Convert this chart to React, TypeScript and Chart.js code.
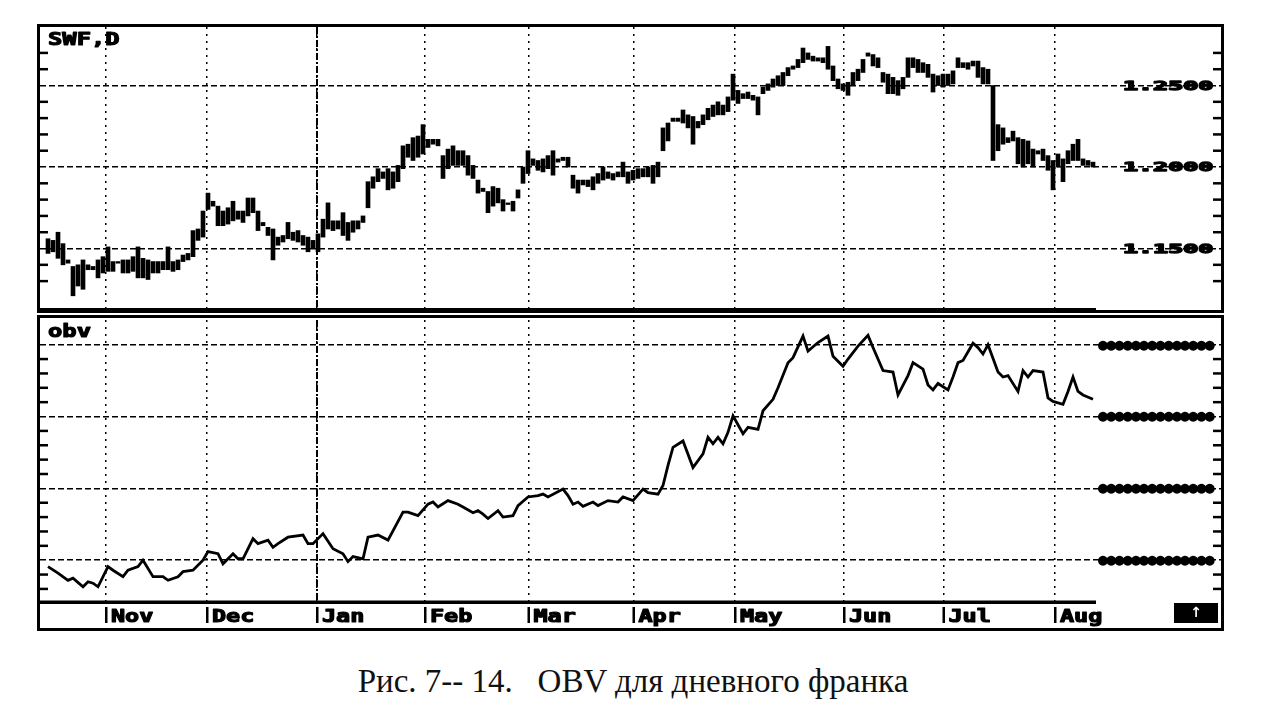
import React, { useEffect, useRef } from "react";
import { Chart, registerables } from "chart.js";

Chart.register(...registerables);

// ---------- data ----------
const priceHigh = [
  1.156, 1.155, 1.160, 1.153, 1.143, 1.139, 1.140, 1.143, 1.140, 1.139,
  1.143, 1.145, 1.151, 1.142, 1.142, 1.143, 1.143, 1.145, 1.151, 1.144,
  1.143, 1.142, 1.142, 1.142, 1.151, 1.142, 1.143, 1.146, 1.147, 1.161,
  1.162, 1.173, 1.184, 1.179, 1.176, 1.173, 1.175, 1.179, 1.173, 1.173,
  1.181, 1.181, 1.173,
  1.166, 1.163, 1.162, 1.157, 1.158, 1.166, 1.160, 1.161, 1.158, 1.157,
  1.155, 1.159, 1.168, 1.178, 1.167, 1.167, 1.172, 1.166, 1.167, 1.167,
  1.170, 1.191, 1.194, 1.199, 1.197, 1.199, 1.197, 1.201, 1.213, 1.214,
  1.218, 1.219, 1.226, 1.217, 1.217, 1.217, 1.207, 1.211, 1.213, 1.210,
  1.210, 1.207,
  1.201, 1.192, 1.187, 1.185, 1.188, 1.187, 1.180, 1.178, 1.179, 1.186,
  1.200, 1.210, 1.205, 1.204, 1.205, 1.207, 1.210, 1.205, 1.206, 1.206,
  1.195, 1.192, 1.192, 1.192, 1.194, 1.196, 1.200, 1.197, 1.196, 1.197,
  1.203, 1.197, 1.198, 1.199, 1.199, 1.200, 1.201, 1.203, 1.224, 1.227,
  1.230, 1.230,
  1.235, 1.232, 1.231, 1.228, 1.232, 1.236, 1.238, 1.240, 1.238, 1.243,
  1.257, 1.247, 1.245, 1.246, 1.244, 1.243, 1.249, 1.251, 1.254, 1.256,
  1.258, 1.261, 1.262, 1.266, 1.273, 1.270, 1.268, 1.267, 1.267, 1.274,
  1.262, 1.254, 1.251, 1.252, 1.258, 1.260, 1.266, 1.270, 1.269, 1.267,
  1.258, 1.257,
  1.255, 1.253, 1.255, 1.267, 1.267, 1.266, 1.264, 1.263, 1.257, 1.256,
  1.257, 1.257, 1.259, 1.267, 1.264, 1.264, 1.265, 1.265, 1.261, 1.260,
  1.250, 1.226, 1.224, 1.218, 1.222, 1.218, 1.217, 1.216, 1.211, 1.210,
  1.211, 1.207, 1.204, 1.208, 1.205, 1.210, 1.214, 1.217, 1.205, 1.204,
  1.203,
];

const priceLow = [
  1.147, 1.148, 1.144, 1.140, 1.141, 1.121, 1.127, 1.125, 1.137, 1.137,
  1.132, 1.135, 1.136, 1.136, 1.141, 1.135, 1.135, 1.136, 1.132, 1.132,
  1.131, 1.135, 1.135, 1.137, 1.137, 1.136, 1.137, 1.142, 1.143, 1.145,
  1.155, 1.157, 1.174, 1.176, 1.164, 1.164, 1.165, 1.167, 1.168, 1.166,
  1.170, 1.172, 1.161,
  1.164, 1.158, 1.143, 1.152, 1.154, 1.156, 1.155, 1.154, 1.152, 1.148,
  1.150, 1.148, 1.157, 1.162, 1.161, 1.162, 1.158, 1.155, 1.160, 1.162,
  1.166, 1.175, 1.187, 1.191, 1.193, 1.186, 1.187, 1.191, 1.199, 1.206,
  1.204, 1.206, 1.208, 1.212, 1.214, 1.213, 1.193, 1.199, 1.201, 1.201,
  1.201, 1.195,
  1.193, 1.184, 1.185, 1.172, 1.176, 1.178, 1.173, 1.177, 1.173, 1.181,
  1.190, 1.196, 1.201, 1.198, 1.197, 1.199, 1.195, 1.203, 1.204, 1.200,
  1.187, 1.184, 1.189, 1.188, 1.186, 1.190, 1.192, 1.193, 1.192, 1.194,
  1.194, 1.190, 1.192, 1.193, 1.194, 1.194, 1.190, 1.194, 1.210, 1.216,
  1.228, 1.228,
  1.227, 1.224, 1.214, 1.224, 1.226, 1.229, 1.231, 1.232, 1.232, 1.234,
  1.241, 1.239, 1.242, 1.242, 1.241, 1.232, 1.245, 1.247, 1.249, 1.250,
  1.250, 1.256, 1.260, 1.261, 1.264, 1.266, 1.265, 1.265, 1.264, 1.260,
  1.253, 1.248, 1.247, 1.244, 1.250, 1.253, 1.258, 1.268, 1.262, 1.261,
  1.252, 1.245,
  1.245, 1.244, 1.248, 1.255, 1.261, 1.258, 1.258, 1.255, 1.246, 1.250,
  1.249, 1.250, 1.251, 1.261, 1.261, 1.260, 1.262, 1.255, 1.251, 1.251,
  1.204, 1.210, 1.214, 1.215, 1.216, 1.202, 1.200, 1.202, 1.200, 1.208,
  1.204, 1.198, 1.186, 1.200, 1.191, 1.202, 1.204, 1.204, 1.201, 1.201,
  1.200,
];

const obvDays = [
  0, 2, 4, 5, 7, 8, 9, 10, 12, 13, 15, 16, 18, 19, 21, 23, 24, 26, 27, 29,
  31, 32, 34, 35, 37, 38, 39, 41, 42, 44, 45, 46, 48, 51, 52, 53, 55, 57, 59, 60,
  61, 63, 64, 66, 68, 71, 72, 74, 76, 77, 78, 80, 82, 83, 85, 86, 87, 88, 90, 91,
  93, 94, 96, 98, 99, 100, 103, 104, 105, 106, 107, 109, 110, 112, 114, 115, 117, 119, 120, 122,
  123, 124, 125, 127, 129, 131, 132, 133, 134, 135, 136, 137, 139, 140, 142, 143, 145, 146, 148, 149,
  151, 152, 154, 156, 157, 159, 160, 162, 164, 165, 167, 169, 170, 172, 173, 175, 176, 177, 178, 180,
  181, 182, 183, 185, 186, 187, 188, 190, 191, 192, 194, 195, 196, 197, 199, 200, 201, 203, 204, 205,
  206, 207, 209,
];

const obvValues = [
  9.1, 8.2, 7.2, 7.5, 6.3, 7.0, 6.8, 6.3, 9.1, 8.6, 7.7, 8.6, 9.1, 10.0, 7.7, 7.7, 7.2, 7.7, 8.4, 8.6,
  10.0, 11.2, 10.9, 9.5, 10.9, 10.2, 10.2, 13.0, 12.3, 12.8, 11.8, 12.3, 13.2, 13.5, 12.3, 12.3, 13.7, 11.6, 10.9, 9.8,
  10.5, 10.2, 13.2, 13.5, 12.8, 16.7, 16.7, 16.2, 17.8, 18.1, 17.4, 18.3, 17.8, 17.4, 16.6, 16.9, 16.4, 15.8, 16.9, 16.0,
  16.2, 17.6, 18.8, 19.0, 19.2, 18.8, 19.9, 19.0, 17.8, 18.1, 17.5, 18.1, 17.6, 18.3, 18.1, 18.8, 18.3, 19.9, 19.4, 19.2,
  20.4, 23.2, 25.7, 26.6, 22.9, 24.8, 27.1, 26.2, 27.1, 26.2, 27.8, 30.1, 27.6, 28.5, 28.2, 30.8, 32.4, 34.0, 37.5, 38.2,
  41.2, 39.1, 40.3, 41.2, 38.4, 37.0, 38.0, 39.8, 41.3, 39.6, 36.4, 36.2, 33.0, 35.7, 37.5, 36.6, 34.4, 33.7, 34.6, 33.7,
  35.5, 37.5, 37.8, 40.2, 39.6, 38.7, 40.0, 36.2, 35.5, 35.7, 33.5, 36.4, 35.5, 36.4, 36.2, 32.6, 32.1, 31.7, 33.5, 35.5,
  33.5, 33.0, 32.4,
];

const monthLabels = ["Nov", "Dec", "Jan", "Feb", "Mar", "Apr", "May", "Jun", "Jul", "Aug"];
const monthDays = [11.6, 31.8, 53.8, 75.4, 96.1, 117.1, 137.4, 159.2, 179.1, 201.4];

const priceTicks = [1.15, 1.2, 1.25];
const priceTickLabels = ["1.1500", "1.2000", "1.2500"];
const priceMinorTicks = [1.13, 1.14, 1.16, 1.17, 1.18, 1.19, 1.21, 1.22, 1.23, 1.24, 1.26, 1.27];

const obvGridValues = [10, 20, 30, 40];
const obvMinorTicks = [6, 8, 12, 14, 16, 18, 22, 24, 26, 28, 32, 34, 36, 38];
const obvTickLabel = "●●●●●●●●●●●●●●";

const priceTitle = "SWF,D";
const obvTitle = "obv";
const caption = "Рис. 7-- 14.   OBV для дневного франка";

// ---------- geometry ----------
const PANEL_LEFT = 37;
const PANEL_W = 1187;
const TOP_Y = 24;
const TOP_H = 289;
const BOT_Y = 315;
const BOT_H = 316;
const X_MIN = -1.6;
const X_MAX = 234.6;
const PRICE_MIN = 1.1129;
const PRICE_MAX = 1.2859;
const OBV_MIN = 4.18;
const OBV_MAX = 43.44;
const LAST_DAY = 209.6;

function drawWide(
  ctx: CanvasRenderingContext2D,
  text: string,
  x: number,
  y: number,
  size: number,
  sx: number,
  stroke = 0.9,
  color = "#000"
) {
  ctx.save();
  ctx.translate(x, y);
  ctx.scale(sx, 1);
  ctx.font = `bold ${size}px "DejaVu Sans Mono", monospace`;
  ctx.textAlign = "left";
  ctx.textBaseline = "alphabetic";
  ctx.fillStyle = color;
  ctx.fillText(text, 0, 0);
  ctx.strokeStyle = color;
  ctx.lineWidth = stroke;
  ctx.lineJoin = "round";
  ctx.strokeText(text, 0, 0);
  ctx.restore();
}

function hline(ctx: CanvasRenderingContext2D, x1: number, x2: number, y: number) {
  ctx.beginPath();
  ctx.moveTo(x1, y);
  ctx.lineTo(x2, y);
  ctx.stroke();
}

function drawJanLine(chart: any) {
  const { ctx, chartArea: a, scales } = chart;
  const px = scales.x.getPixelForValue(monthDays[2]);
  ctx.save();
  ctx.strokeStyle = "#000";
  ctx.lineWidth = 2;
  ctx.setLineDash([7, 2, 2, 2]);
  ctx.beginPath();
  ctx.moveTo(px, a.top);
  ctx.lineTo(px, a.bottom);
  ctx.stroke();
  ctx.restore();
}

const topPlugin = {
  id: "topPanelDecor",
  beforeDatasetsDraw(chart: any) {
    drawJanLine(chart);
  },
  afterDraw(chart: any) {
    const { ctx, chartArea: a, scales } = chart;
    const W = chart.width;
    const H = chart.height;
    ctx.save();
    ctx.strokeStyle = "#000";
    ctx.setLineDash([]);
    ctx.lineWidth = 2.5;
    for (const v of priceMinorTicks) {
      const py = scales.y.getPixelForValue(v);
      hline(ctx, a.left, a.left + 8, py);
      hline(ctx, a.right - 8, a.right, py);
    }
    priceTicks.forEach((v, i) => {
      const py = scales.y.getPixelForValue(v);
      drawWide(ctx, priceTickLabels[i], 1123 - PANEL_LEFT, py + 4, 12.5, 2.0, 1.3);
    });
    drawWide(ctx, priceTitle, 48 - PANEL_LEFT, 45 - TOP_Y, 17, 1.4, 1.1);
    ctx.lineWidth = 3;
    ctx.strokeRect(1.5, 1.5, W - 3, H - 3);
    ctx.fillStyle = "#000";
    const endX = scales.x.getPixelForValue(LAST_DAY);
    ctx.fillRect(0, H - 5, endX, 5);
    ctx.restore();
  },
};

const bottomPlugin = {
  id: "bottomPanelDecor",
  beforeDatasetsDraw(chart: any) {
    drawJanLine(chart);
  },
  afterDraw(chart: any) {
    const { ctx, chartArea: a, scales } = chart;
    const W = chart.width;
    const H = chart.height;
    ctx.save();
    ctx.strokeStyle = "#000";
    ctx.fillStyle = "#000";
    ctx.setLineDash([]);
    ctx.lineWidth = 2.5;
    for (const v of obvMinorTicks) {
      const py = scales.y.getPixelForValue(v);
      hline(ctx, a.left, a.left + 8, py);
      hline(ctx, a.right - 8, a.right, py);
    }
    // right-side (illegible) value labels
    ctx.font = 'bold 13px "DejaVu Sans"';
    ctx.textAlign = "center";
    ctx.textBaseline = "middle";
    for (const v of obvGridValues) {
      const py = scales.y.getPixelForValue(v);
      ctx.fillRect(1100 - PANEL_LEFT, py - 1.5, 114, 3);
      const chars = Array.from(obvTickLabel);
      chars.forEach((c, k) => {
        ctx.fillText(c, 1103 - PANEL_LEFT + k * 8.2, py + 0.5);
      });
    }
    // axis line
    const endX = scales.x.getPixelForValue(LAST_DAY);
    ctx.fillRect(a.left, a.bottom - 1.5, endX - a.left, 3.5);
    // month labels
    monthDays.forEach((d, i) => {
      const px = scales.x.getPixelForValue(d);
      ctx.fillRect(px - 1, 607 - BOT_Y, 2.5, 16);
      drawWide(ctx, monthLabels[i], px + 5, 622 - BOT_Y, 17, 1.38, 1.1);
    });
    // title
    drawWide(ctx, obvTitle, 48 - PANEL_LEFT, 337 - BOT_Y, 17, 1.4, 1.1);
    // black box with arrow
    ctx.fillStyle = "#000";
    ctx.fillRect(1174 - PANEL_LEFT, 603 - BOT_Y, 44, 20);
    ctx.fillStyle = "#fff";
    ctx.font = 'bold 14px "DejaVu Sans"';
    ctx.textAlign = "center";
    ctx.textBaseline = "middle";
    ctx.fillText("↑", 1196 - PANEL_LEFT, 613 - BOT_Y);
    // frame
    ctx.strokeStyle = "#000";
    ctx.lineWidth = 3;
    ctx.strokeRect(1.5, 1.5, W - 3, H - 3);
    ctx.restore();
  },
};

function xScale(): any {
  return {
    type: "linear",
    min: X_MIN,
    max: X_MAX,
    offset: false,
    afterBuildTicks: (s: any) => {
      s.ticks = monthDays.map((v) => ({ value: v }));
    },
    ticks: { display: false },
    grid: { drawTicks: false, offset: false, color: "#000", lineWidth: 1.5 },
    border: { display: false, dash: [2, 5] },
  };
}

export default function App() {
  const topRef = useRef<HTMLCanvasElement>(null);
  const botRef = useRef<HTMLCanvasElement>(null);

  useEffect(() => {
    const priceData = priceHigh.map((h, i) => ({ x: i, y: [priceLow[i], h] }));
    const obvData = obvDays.map((d, i) => ({ x: d, y: obvValues[i] }));

    const top = new Chart(topRef.current as HTMLCanvasElement, {
      type: "bar",
      data: {
        datasets: [
          {
            data: priceData as any,
            backgroundColor: "#000",
            borderWidth: 0,
            barThickness: 4,
          },
        ],
      },
      options: {
        animation: false,
        responsive: false,
        events: [],
        layout: { padding: { left: 3, right: 3, top: 3, bottom: 4 } },
        plugins: { legend: { display: false }, tooltip: { enabled: false } },
        scales: {
          x: xScale(),
          y: {
            type: "linear",
            min: PRICE_MIN,
            max: PRICE_MAX,
            afterBuildTicks: (s: any) => {
              s.ticks = priceTicks.map((v) => ({ value: v }));
            },
            ticks: { display: false },
            grid: { drawTicks: false, color: "#000", lineWidth: 1.6 },
            border: { display: false, dash: [6, 3] },
          },
        },
      } as any,
      plugins: [topPlugin],
    });

    const bot = new Chart(botRef.current as HTMLCanvasElement, {
      type: "line",
      data: {
        datasets: [
          {
            data: obvData as any,
            borderColor: "#000",
            borderWidth: 2.8,
            pointRadius: 0,
            tension: 0,
            fill: false,
          },
        ],
      },
      options: {
        animation: false,
        responsive: false,
        events: [],
        layout: { padding: { left: 3, right: 3, top: 5, bottom: 29 } },
        plugins: { legend: { display: false }, tooltip: { enabled: false } },
        scales: {
          x: xScale(),
          y: {
            type: "linear",
            min: OBV_MIN,
            max: OBV_MAX,
            afterBuildTicks: (s: any) => {
              s.ticks = obvGridValues.map((v) => ({ value: v }));
            },
            ticks: { display: false },
            grid: { drawTicks: false, color: "#000", lineWidth: 1.6 },
            border: { display: false, dash: [6, 3] },
          },
        },
      } as any,
      plugins: [bottomPlugin],
    });

    return () => {
      top.destroy();
      bot.destroy();
    };
  }, []);

  return (
    <div
      style={{
        position: "absolute",
        left: 0,
        top: 0,
        width: 1264,
        height: 720,
        background: "#fff",
        overflow: "hidden",
      }}
    >
      <canvas
        ref={topRef}
        width={PANEL_W}
        height={TOP_H}
        style={{ position: "absolute", left: PANEL_LEFT, top: TOP_Y, width: PANEL_W, height: TOP_H }}
      />
      <canvas
        ref={botRef}
        width={PANEL_W}
        height={BOT_H}
        style={{ position: "absolute", left: PANEL_LEFT, top: BOT_Y, width: PANEL_W, height: BOT_H }}
      />
      <div
        style={{
          position: "absolute",
          left: 0,
          top: 665,
          width: 1266,
          textAlign: "center",
          fontFamily: '"Liberation Serif", serif',
          fontSize: 33,
          lineHeight: "33px",
          whiteSpace: "pre",
          color: "#111",
        }}
      >
        {caption}
      </div>
    </div>
  );
}
